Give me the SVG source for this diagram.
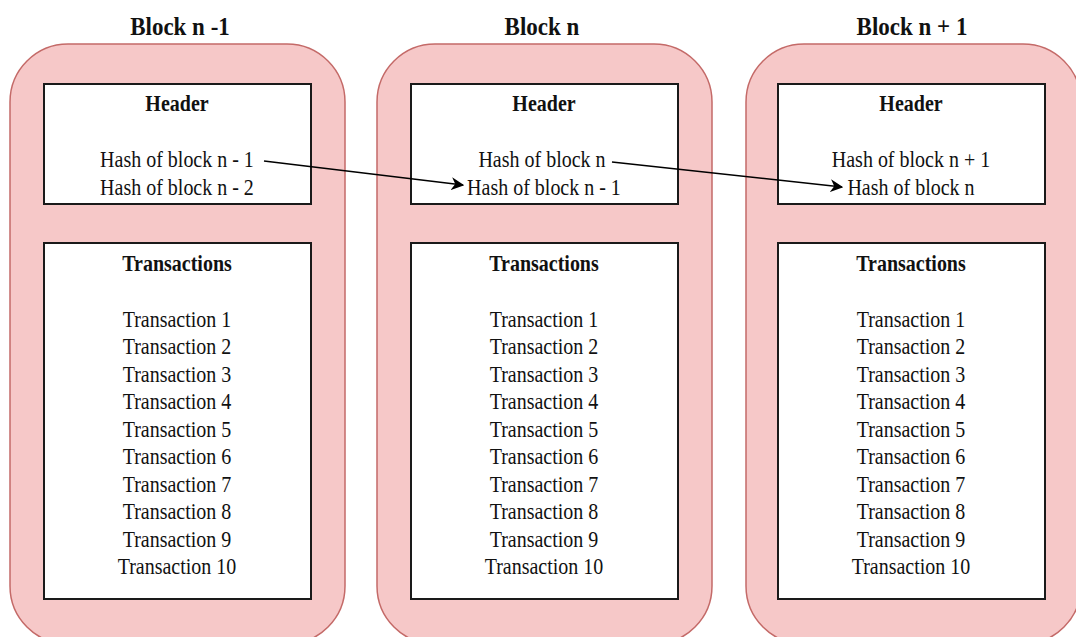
<svg xmlns="http://www.w3.org/2000/svg" width="1076" height="637" viewBox="0 0 1076 637">
  <style>
    .outer { fill: #f6c8c8; stroke: #c46a68; stroke-width: 1.5; }
    .box { fill: #ffffff; stroke: #1a1a1a; stroke-width: 2; }
    text { transform-box: fill-box; transform-origin: center; transform: scaleY(1.12); }
    .title { font-family: "Liberation Serif", "Times New Roman", serif; font-weight: bold; font-size: 23px; fill: #111; text-anchor: middle; }
    .head { font-family: "Liberation Serif", "Times New Roman", serif; font-weight: bold; font-size: 20px; fill: #111; text-anchor: middle; }
    .txt { font-family: "Liberation Serif", "Times New Roman", serif; font-size: 20px; fill: #111; text-anchor: middle; }
    .link { fill: none; stroke: #000; stroke-width: 1.6; }
  </style>
  <defs>
    <marker id="arrow" viewBox="0 0 10 10" refX="9" refY="5" markerWidth="13" markerHeight="13" markerUnits="userSpaceOnUse" orient="auto">
      <path d="M0,0 L10,5 L0,10 L3,5 Z" fill="#000"/>
    </marker>
  </defs>
  <rect width="1076" height="637" fill="#ffffff"/>

  <!-- Block n-1 -->
  <g id="block-prev">
    <text class="title" x="180" y="34">Block n -1</text>
    <rect class="outer" x="10" y="44" width="335" height="600" rx="58" ry="58"/>
    <rect class="box" x="44" y="84" width="267" height="120"/>
    <text class="head" x="177" y="110">Header</text>
    <text class="txt" x="177" y="166">Hash of block n - 1</text>
    <text class="txt" x="177" y="194">Hash of block n - 2</text>
    <rect class="box" x="44" y="243" width="267" height="356"/>
    <text class="head" x="177" y="270">Transactions</text>
    <text class="txt" x="177" y="326">Transaction 1</text>
    <text class="txt" x="177" y="353.5">Transaction 2</text>
    <text class="txt" x="177" y="381">Transaction 3</text>
    <text class="txt" x="177" y="408.5">Transaction 4</text>
    <text class="txt" x="177" y="436">Transaction 5</text>
    <text class="txt" x="177" y="463.5">Transaction 6</text>
    <text class="txt" x="177" y="491">Transaction 7</text>
    <text class="txt" x="177" y="518.5">Transaction 8</text>
    <text class="txt" x="177" y="546">Transaction 9</text>
    <text class="txt" x="177" y="573.5">Transaction 10</text>
  </g>

  <!-- Block n -->
  <g id="block-cur">
    <text class="title" x="542" y="34">Block n</text>
    <rect class="outer" x="377" y="44" width="335" height="600" rx="58" ry="58"/>
    <rect class="box" x="411" y="84" width="267" height="120"/>
    <text class="head" x="544" y="110">Header</text>
    <text class="txt" x="542" y="166">Hash of block n</text>
    <text class="txt" x="544" y="194">Hash of block n - 1</text>
    <rect class="box" x="411" y="243" width="267" height="356"/>
    <text class="head" x="544" y="270">Transactions</text>
    <text class="txt" x="544" y="326">Transaction 1</text>
    <text class="txt" x="544" y="353.5">Transaction 2</text>
    <text class="txt" x="544" y="381">Transaction 3</text>
    <text class="txt" x="544" y="408.5">Transaction 4</text>
    <text class="txt" x="544" y="436">Transaction 5</text>
    <text class="txt" x="544" y="463.5">Transaction 6</text>
    <text class="txt" x="544" y="491">Transaction 7</text>
    <text class="txt" x="544" y="518.5">Transaction 8</text>
    <text class="txt" x="544" y="546">Transaction 9</text>
    <text class="txt" x="544" y="573.5">Transaction 10</text>
  </g>

  <!-- Block n+1 -->
  <g id="block-next">
    <text class="title" x="912" y="34">Block n + 1</text>
    <rect class="outer" x="746" y="44" width="335" height="600" rx="58" ry="58"/>
    <rect class="box" x="778" y="84" width="267" height="120"/>
    <text class="head" x="911" y="110">Header</text>
    <text class="txt" x="911" y="166">Hash of block n + 1</text>
    <text class="txt" x="911" y="194">Hash of block n</text>
    <rect class="box" x="778" y="243" width="267" height="356"/>
    <text class="head" x="911" y="270">Transactions</text>
    <text class="txt" x="911" y="326">Transaction 1</text>
    <text class="txt" x="911" y="353.5">Transaction 2</text>
    <text class="txt" x="911" y="381">Transaction 3</text>
    <text class="txt" x="911" y="408.5">Transaction 4</text>
    <text class="txt" x="911" y="436">Transaction 5</text>
    <text class="txt" x="911" y="463.5">Transaction 6</text>
    <text class="txt" x="911" y="491">Transaction 7</text>
    <text class="txt" x="911" y="518.5">Transaction 8</text>
    <text class="txt" x="911" y="546">Transaction 9</text>
    <text class="txt" x="911" y="573.5">Transaction 10</text>
  </g>

  <!-- hash links between headers -->
  <g id="connectors">
    <line class="link" x1="264" y1="161" x2="463" y2="185" marker-end="url(#arrow)"/>
    <line class="link" x1="612" y1="162" x2="842" y2="187" marker-end="url(#arrow)"/>
  </g>
</svg>
